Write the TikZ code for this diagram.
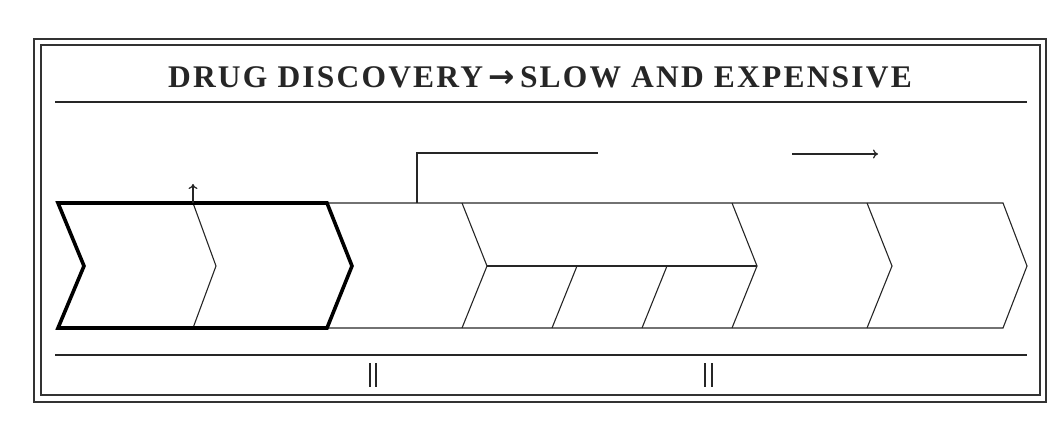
\documentclass[tikz,border=0pt]{standalone}
\usepackage{fontspec}
\setmainfont{Liberation Serif}
\newfontfamily\arrowfont{DejaVu Sans}
\usepackage{tikz}
\usetikzlibrary{arrows.meta,positioning}

\begin{document}
\begin{tikzpicture}[x=1pt, y=-1pt,
    frame/.style={draw=black!80, line width=1.6pt},
    rule/.style={draw=black!85, line width=1.2pt},
    phase/.style={draw=black!85, line width=1.1pt, line join=miter},
    boldphase/.style={draw=black, line width=3.6pt, line join=miter},
    bars/.style={draw=black!85, line width=1.4pt},
    arrow/.style={-{To[length=5pt,width=9pt]}, draw=black!85, line width=1.2pt},
    heading/.style={font=\fontsize{31.5}{34}\selectfont\bfseries\addfontfeatures{LetterSpace=7}, text=black!85, anchor=base}
]
\path[use as bounding box] (0,0) rectangle (1064,435);

% Frame
\draw[frame] (34,39) rectangle (1046,402);
\draw[frame] (41,45) rectangle (1040,395);

% Title
\node[heading] (title) at (540,88) {DRUG DISCOVERY\,{\arrowfont\bfseries →}\,SLOW AND EXPENSIVE};
\coordinate (titleL) at (55,102);
\coordinate (titleR) at (1027,102);
\draw[rule] (titleL) -- (titleR);

% Chevron points
\coordinate (top0) at (58,203);
\coordinate (bot0) at (58,328);
\coordinate (notch0) at (84,266);
\coordinate (top1) at (193,203);
\coordinate (bot1) at (193,328);
\coordinate (tip1) at (216,266);
\coordinate (top2) at (327,203);
\coordinate (bot2) at (327,328);
\coordinate (tip2) at (352,266);
\coordinate (top3) at (462,203);
\coordinate (bot3) at (462,328);
\coordinate (tip3) at (487,266);
\coordinate (top4) at (732,203);
\coordinate (bot4) at (732,328);
\coordinate (tip4) at (757,266);
\coordinate (top5) at (867,203);
\coordinate (bot5) at (867,328);
\coordinate (tip5) at (892,266);
\coordinate (top6) at (1003,203);
\coordinate (bot6) at (1003,328);
\coordinate (tip6) at (1027,266);
\coordinate (sub1) at (577,266);
\coordinate (sub1b) at (552,328);
\coordinate (sub2) at (667,266);
\coordinate (sub2b) at (642,328);

% Phases
\draw[phase] (top2) -- (top6) -- (tip6) -- (bot6) -- (bot2);
\draw[phase] (top1) -- (tip1) -- (bot1);
\draw[phase] (top3) -- (tip3) -- (bot3);
\draw[phase] (top4) -- (tip4) -- (bot4);
\draw[phase] (top5) -- (tip5) -- (bot5);
\draw[phase] (tip3) -- (tip4);
\draw[phase] (sub1) -- (sub1b);
\draw[phase] (sub2) -- (sub2b);
\draw[boldphase] (top0) -- (top2) -- (tip2) -- (bot2) -- (bot0) -- (notch0) -- cycle;

% Markers above
\coordinate (up) at (193,184);
\draw[arrow] (top1) -- (up);
\coordinate (brkB) at (417,203);
\coordinate (brkC) at (417,153);
\coordinate (brkE) at (598,153);
\draw[phase] (brkB) -- (brkC) -- (brkE);
\coordinate (goA) at (792,154);
\coordinate (goB) at (878,154);
\draw[arrow] (goA) -- (goB);

% Bottom rule
\coordinate (baseL) at (55,355);
\coordinate (baseR) at (1027,355);
\draw[rule] (baseL) -- (baseR);
\foreach \x in {370,376,705,712}
  \draw[bars] (\x,363) -- (\x,387);

\end{tikzpicture}
\end{document}
